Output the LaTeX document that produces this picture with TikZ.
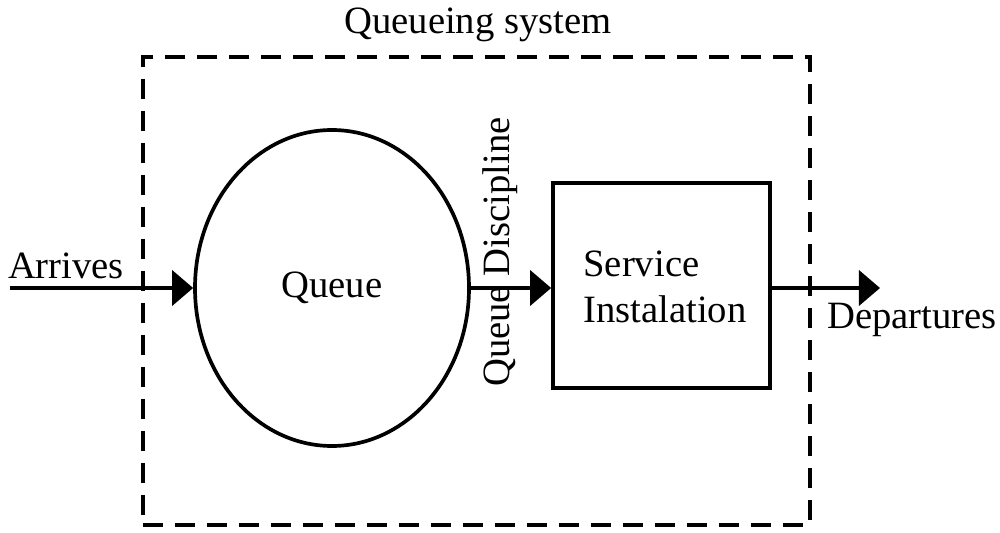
\documentclass[tikz,border=0pt]{standalone}
\usepackage{fontspec}
\setmainfont{Liberation Serif}
\usetikzlibrary{positioning}
\usetikzlibrary{arrows.meta}
\usetikzlibrary{shapes.geometric}
\tikzset{basic block/.style={draw,line width=2.1pt}}
\tikzset{flow/.style={draw,
                      line width=2.1pt,
                      -{Triangle[length=12pt,width=20pt]}}}
\tikzset{boundary/.style={draw,
                          line width=2.3pt,
                          dash pattern=on 0.4cm off 0.24cm}}
\newcommand{\LBL}{\fontsize{22}{26}\selectfont}

\begin{document}
\begin{tikzpicture}
      [
      font=\LBL,
      queue node/.style={basic block,ellipse,minimum width=5.48cm,minimum height=6.32cm},
      server node/.style={basic block,rectangle,minimum width=4.34cm,minimum height=4.1cm},
      ]
      \useasboundingbox (0,0) rectangle (20,10.64);

      % system boundary
      \node [boundary,minimum width=13.34cm,minimum height=9.36cm,inner sep=0pt] (S) at (9.53,4.82) {};
      \node (title) at (9.56,10.14) {Queueing system};

      % blocks
      \node [queue node] (Q) at (6.64,4.88) {Queue};
      \node [server node] (SI) at (13.23,4.93) {};
      \node [align=left] (SItxt) at (13.3,4.9) {Service\\Instalation};

      % free ends
      \coordinate (in) at (0.2,4.88);
      \coordinate (out) at (17.6,4.88);

      % flows
      \draw [flow] (in) -- (Q.west);
      \draw [flow] (Q.east) -- (Q.east -| SI.west);
      \draw [flow] (SI.east |- out) -- (out);

      % labels
      \node (arr) at (1.32,5.32) {Arrives};
      \node (dep) at (18.24,4.24) {Departures};
      \node [rotate=90] (disc) at (10.0,5.6) {Queue Discipline};

    \end{tikzpicture}
\end{document}
